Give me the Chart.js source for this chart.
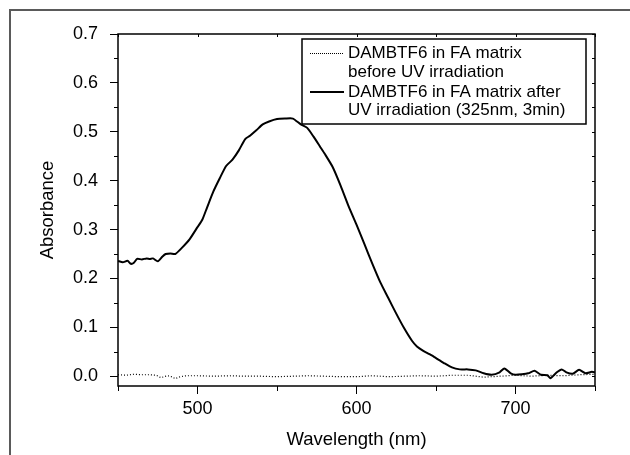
<!DOCTYPE html>
<html>
<head>
<meta charset="utf-8">
<script src="https://cdn.jsdelivr.net/npm/chart.js@4"></script>
<style>
  html, body { margin: 0; padding: 0; background: #fff; }
  #wrap { width: 630px; height: 455px; position: relative; }
</style>
</head>
<body>
<div id="wrap"><canvas id="absChart" width="630" height="455"></canvas></div>
<script>
// Spectrum after UV irradiation (solid line)
const afterWavelengths = [450, 453, 456, 458, 460, 462, 465, 468, 470, 472, 475, 478, 480, 483, 486, 490, 495,
  500, 503, 506, 510, 514, 518, 522, 526, 530, 533, 537, 541, 545, 550, 555, 560, 565, 569, 573, 577,
  580, 585, 590, 595, 600, 605, 610, 615, 620, 625, 630, 635, 638, 642, 646, 650, 655, 660, 665, 670,
  675, 680, 685, 690, 693, 697, 700, 704, 708, 712, 716, 720, 722, 726, 729, 732, 736, 740, 744, 748, 750];
const afterAbsorbance = [0.236, 0.233, 0.236, 0.230, 0.232, 0.240, 0.239, 0.241, 0.240, 0.241, 0.235, 0.245, 0.250, 0.251, 0.250, 0.262, 0.280,
  0.305, 0.320, 0.345, 0.378, 0.405, 0.430, 0.443, 0.462, 0.485, 0.492, 0.503, 0.515, 0.521, 0.526, 0.527, 0.527, 0.515, 0.508, 0.490, 0.470,
  0.455, 0.428, 0.390, 0.348, 0.310, 0.270, 0.230, 0.192, 0.160, 0.128, 0.098, 0.072, 0.061, 0.052, 0.045, 0.037, 0.027, 0.018, 0.014, 0.014,
  0.012, 0.006, 0.003, 0.008, 0.016, 0.006, 0.003, 0.004, 0.006, 0.011, 0.003, 0.002, -0.004, 0.008, 0.014, 0.008, 0.005, 0.013, 0.006, 0.009, 0.008];

// Spectrum before UV irradiation (dotted line)
const beforeWavelengths = [450, 455, 460, 465, 470, 474, 477, 481, 483, 486, 489, 493, 500, 510, 520, 530, 540, 550, 560,
  570, 580, 590, 600, 610, 620, 630, 640, 650, 660, 670, 680, 690, 700, 710, 720, 730, 740, 750];
const beforeAbsorbance = [0.003, 0.002, 0.004, 0.003, 0.003, 0.002, -0.003, 0.001, 0.000, -0.005, -0.001, 0.001, 0.001, 0.000, 0.001, 0.000, 0.000, -0.001, 0.000,
  0.001, 0.000, -0.001, -0.001, 0.001, -0.001, 0.000, 0.001, 0.000, 0.002, 0.002, -0.002, 0.000, 0.002, 0.000, 0.002, 0.001, 0.003, 0.004];

const beforeLabel = ["DAMBTF6 in FA matrix", "before UV irradiation"];
const afterLabel = ["DAMBTF6 in FA matrix after", "UV irradiation (325nm, 3min)"];

// tick labels
const xTickLabels = [500, 600, 700];
const xMinorTicks = [450, 550, 650, 750];
const yTickLabels = [0, 0.1, 0.2, 0.3, 0.4, 0.5, 0.6, 0.7];
const yMinorTicks = [0.05, 0.15, 0.25, 0.35, 0.45, 0.55, 0.65];

const FONT = "'Liberation Sans', Arial, sans-serif";

const toPoints = (xs, ys) => xs.map((x, i) => ({ x: x, y: ys[i] }));

// gray outer frame, plot box, minor/mirror ticks and legend
const framePlugin = {
  id: "framePlugin",
  beforeDraw(chart) {
    const c = chart.ctx;
    c.save();
    c.strokeStyle = "#5a5a5a";
    c.lineWidth = 2;
    c.beginPath();
    c.moveTo(10, 455);
    c.lineTo(10, 10);
    c.lineTo(630, 10);
    c.stroke();
    c.restore();
  },
  afterDraw(chart) {
    const c = chart.ctx;
    const a = chart.chartArea;
    const xs = chart.scales.x;
    const ys = chart.scales.y;
    c.save();
    c.strokeStyle = "#000";
    c.lineWidth = 1.5;
    c.strokeRect(a.left, a.top, a.right - a.left, a.bottom - a.top);

    c.lineWidth = 1;
    c.beginPath();
    xMinorTicks.forEach((v) => {
      const px = Math.round(xs.getPixelForValue(v)) + 0.5;
      c.moveTo(px, a.bottom);
      c.lineTo(px, a.bottom + 5);
    });
    xMinorTicks.concat(xTickLabels).forEach((v) => {
      const px = Math.round(xs.getPixelForValue(v)) + 0.5;
      c.moveTo(px, a.top);
      c.lineTo(px, a.top + 3);
    });
    yMinorTicks.forEach((v) => {
      const py = Math.round(ys.getPixelForValue(v)) + 0.5;
      c.moveTo(a.left, py);
      c.lineTo(a.left - 4, py);
    });
    yMinorTicks.concat(yTickLabels).forEach((v) => {
      const py = Math.round(ys.getPixelForValue(v)) + 0.5;
      c.moveTo(a.right, py);
      c.lineTo(a.right - 3, py);
    });
    c.stroke();

    // legend
    const bx = a.right - 293, by = a.top + 5, bw = 284, bh = 85;
    c.fillStyle = "#fff";
    c.fillRect(bx, by, bw, bh);
    c.lineWidth = 1.5;
    c.strokeRect(bx, by, bw, bh);
    c.font = "17px " + FONT;
    c.fillStyle = "#000";
    c.textBaseline = "middle";
    const lineY = [by + 14, by + 33, by + 53, by + 71];
    const texts = beforeLabel.concat(afterLabel);
    texts.forEach((t, i) => c.fillText(t, bx + 46, lineY[i]));

    c.lineWidth = 1;
    c.setLineDash([1, 1]);
    c.beginPath();
    c.moveTo(bx + 8, lineY[0] + 0.5);
    c.lineTo(bx + 42, lineY[0] + 0.5);
    c.stroke();
    c.setLineDash([]);
    c.lineWidth = 1.8;
    c.beginPath();
    c.moveTo(bx + 8, lineY[2]);
    c.lineTo(bx + 42, lineY[2]);
    c.stroke();
    c.restore();
  },
};

const ctx = document.getElementById("absChart").getContext("2d");

new Chart(ctx, {
  type: "line",
  data: {
    datasets: [
      {
        label: beforeLabel.join(" "),
        data: toPoints(beforeWavelengths, beforeAbsorbance),
        borderColor: "#000",
        borderWidth: 1.2,
        borderDash: [1, 2],
        pointRadius: 0,
        tension: 0,
        fill: false,
      },
      {
        label: afterLabel.join(" "),
        data: toPoints(afterWavelengths, afterAbsorbance),
        borderColor: "#000",
        borderWidth: 2,
        pointRadius: 0,
        tension: 0.2,
        fill: false,
      },
    ],
  },
  options: {
    responsive: false,
    animation: false,
    layout: { padding: { left: 0, top: 34, right: 35, bottom: 0 } },
    plugins: {
      legend: { display: false },
      tooltip: { enabled: false },
    },
    scales: {
      x: {
        type: "linear",
        min: 450,
        max: 750,
        afterBuildTicks: (scale) => {
          scale.ticks = xTickLabels.map((v) => ({ value: v }));
        },
        afterFit: (scale) => {
          scale.height = 69;
        },
        ticks: {
          color: "#000",
          font: { family: FONT, size: 18 },
          padding: 4,
          maxRotation: 0,
          callback: (v) => String(v),
        },
        grid: {
          display: true,
          drawOnChartArea: false,
          drawTicks: true,
          tickLength: 8,
          tickColor: "#000",
          tickWidth: 1,
        },
        border: { display: false },
        title: {
          display: true,
          text: "Wavelength (nm)",
          color: "#000",
          font: { family: FONT, size: 18.5 },
          padding: { top: 0, bottom: 4 },
        },
      },
      y: {
        type: "linear",
        min: -0.02,
        max: 0.7,
        afterBuildTicks: (scale) => {
          scale.ticks = yTickLabels.map((v) => ({ value: v }));
        },
        afterFit: (scale) => {
          scale.width = 118;
        },
        ticks: {
          color: "#000",
          font: { family: FONT, size: 18 },
          padding: 12,
          callback: (v) => Number(v).toFixed(1),
        },
        grid: {
          display: true,
          drawOnChartArea: false,
          drawTicks: true,
          tickLength: 8,
          tickColor: "#000",
          tickWidth: 1,
        },
        border: { display: false },
        title: {
          display: true,
          text: "Absorbance",
          color: "#000",
          font: { family: FONT, size: 18.5 },
          padding: { top: 37, bottom: 0 },
        },
      },
    },
  },
  plugins: [framePlugin],
});
</script>
</body>
</html>
